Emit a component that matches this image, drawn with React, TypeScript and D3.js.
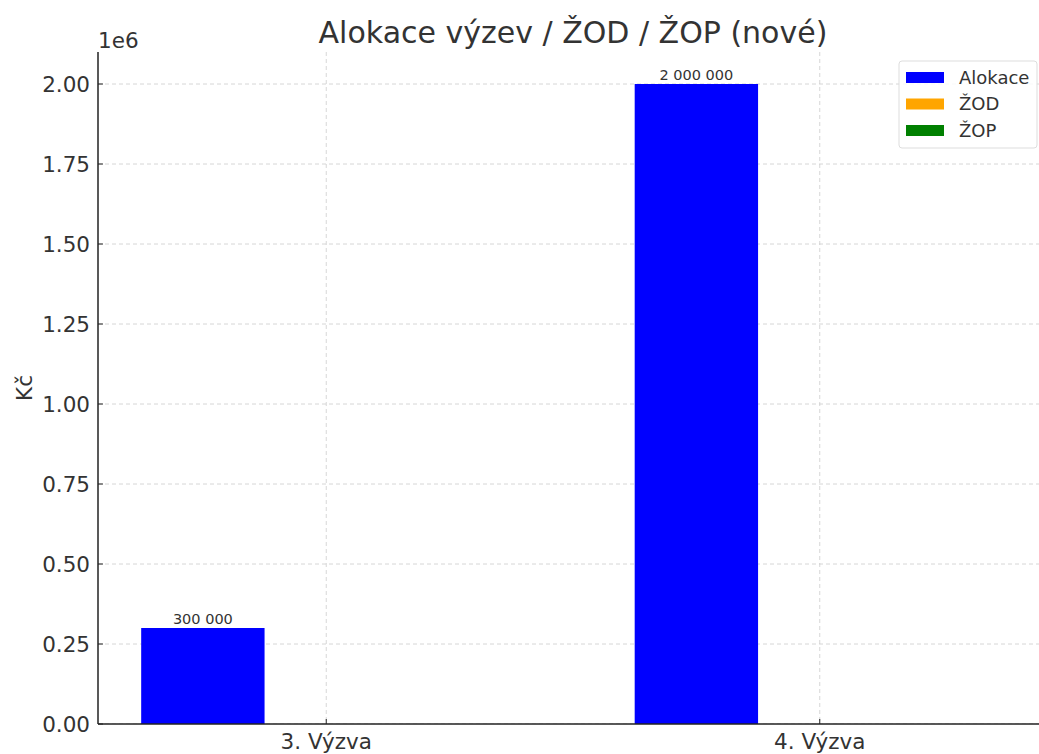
import React from "react";
import * as d3 from "d3";

const categories = ["3. Výzva", "4. Výzva"];
const seriesNames = ["Alokace", "ŽOD", "ŽOP"];
const seriesColors = ["#0000ff", "#ffa500", "#008000"];
const alokace = [300000, 2000000];
const zod = [0, 0];
const zop = [0, 0];
const yTicks = [0, 0.25, 0.5, 0.75, 1.0, 1.25, 1.5, 1.75, 2.0];
const title = "Alokace výzev / ŽOD / ŽOP (nové)";
const yLabel = "Kč";

const W = 1039;
const H = 754;
const left = 98;
const right = 1048;
const top = 52;
const bottom = 724;
const font = "'DejaVu Sans', sans-serif";
const textColor = "#333";

export default function App() {
  const series = [alokace, zod, zop];
  const barW = 0.25;
  const x = d3.scaleLinear().domain([-0.4625, 1.4625]).range([left, right]);
  const y = d3.scaleLinear().domain([0, 2.1e6]).range([bottom, top]);
  const fmt = (v: number) => d3.format(",")(v).replace(/,/g, " ");

  return (
    <svg width={W} height={H} style={{ position: "absolute", left: 0, top: 0, background: "#fff" }}>
      <defs>
        <clipPath id="plot">
          <rect x={left} y={top} width={right - left} height={bottom - top} />
        </clipPath>
      </defs>
      <rect x={0} y={0} width={W} height={H} fill="#fff" />
      {/* grid */}
      <g clipPath="url(#plot)">
        {yTicks.map((t) => (
          <line key={"gy" + t} x1={left} x2={right} y1={y(t * 1e6)} y2={y(t * 1e6)} stroke="#ccc" strokeWidth={0.8} strokeDasharray="4,3" />
        ))}
        {categories.map((c, i) => (
          <line key={"gx" + c} x1={x(i)} x2={x(i)} y1={top} y2={bottom} stroke="#ccc" strokeWidth={0.8} strokeDasharray="4,3" />
        ))}
      </g>
      {/* bars */}
      <g>
        {series.map((vals, s) =>
          vals.map((v, i) => {
            const cx = i + (s - 1) * barW;
            const x0 = x(cx - barW / 2);
            const x1 = x(cx + barW / 2);
            return (
              <rect key={s + "-" + i} x={x0} y={y(v)} width={x1 - x0} height={y(0) - y(v)} fill={seriesColors[s]} />
            );
          })
        )}
        {series.map((vals, s) =>
          vals.map((v, i) =>
            v > 0 ? (
              <text key={"l" + s + "-" + i} x={x(i + (s - 1) * barW)} y={y(v) - 4} textAnchor="middle" fontFamily={font} fontSize={14.5} fill={textColor}>
                {fmt(v)}
              </text>
            ) : null
          )
        )}
      </g>
      {/* spines */}
      <line x1={left} x2={left} y1={top} y2={bottom} stroke="#222" strokeWidth={1.5} />
      <line x1={left} x2={right} y1={bottom} y2={bottom} stroke="#222" strokeWidth={1.5} />
      {/* y ticks */}
      {yTicks.map((t) => (
        <g key={"yt" + t}>
          <line x1={left} x2={left + 5} y1={y(t * 1e6)} y2={y(t * 1e6)} stroke="#222" strokeWidth={1} />
          <text x={90} y={y(t * 1e6)} dy="0.36em" textAnchor="end" fontFamily={font} fontSize={21.5} fill={textColor}>
            {t.toFixed(2)}
          </text>
        </g>
      ))}
      {/* x ticks */}
      {categories.map((c, i) => (
        <g key={"xt" + c}>
          <line x1={x(i)} x2={x(i)} y1={bottom} y2={bottom - 5} stroke="#222" strokeWidth={1} />
          <text x={x(i)} y={749} textAnchor="middle" fontFamily={font} fontSize={21.5} fill={textColor}>
            {c}
          </text>
        </g>
      ))}
      <text x={left} y={48} fontFamily={font} fontSize={21.5} fill={textColor}>1e6</text>
      <text x={(left + right) / 2} y={43} textAnchor="middle" fontFamily={font} fontSize={30} fill={textColor}>
        {title}
      </text>
      <text transform={`translate(32, ${(top + bottom) / 2}) rotate(-90)`} textAnchor="middle" fontFamily={font} fontSize={21.5} fill={textColor}>
        {yLabel}
      </text>
      {/* legend */}
      <g>
        <rect x={899} y={61} width={138} height={87} rx={3} fill="#fff" fillOpacity={0.85} stroke="#ddd" strokeWidth={1} />
        {seriesNames.map((n, s) => (
          <g key={"lg" + n}>
            <rect x={906} y={72 + s * 26.5} width={38} height={11} fill={seriesColors[s]} />
            <text x={959} y={77.5 + s * 26.5} dy="0.36em" fontFamily={font} fontSize={18} fill={textColor}>
              {n}
            </text>
          </g>
        ))}
      </g>
    </svg>
  );
}
